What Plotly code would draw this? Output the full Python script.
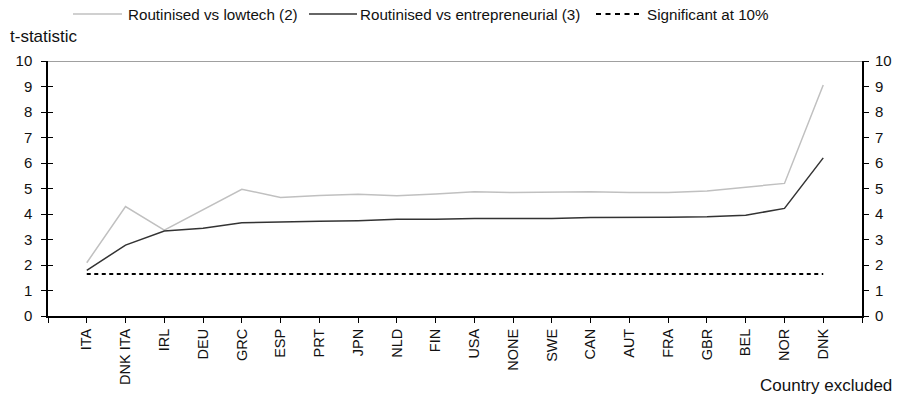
import plotly.graph_objects as go

countries = ["ITA", "DNK ITA", "IRL", "DEU", "GRC", "ESP", "PRT", "JPN", "NLD", "FIN",
             "USA", "NONE", "SWE", "CAN", "AUT", "FRA", "GBR", "BEL", "NOR", "DNK"]
lowtech = [2.09, 4.29, 3.37, 4.16, 4.97, 4.65, 4.73, 4.77, 4.72, 4.78,
           4.87, 4.84, 4.85, 4.87, 4.84, 4.84, 4.90, 5.04, 5.20, 9.06]
entrepreneurial = [1.79, 2.78, 3.33, 3.44, 3.66, 3.70, 3.72, 3.74, 3.79, 3.79,
                   3.82, 3.82, 3.82, 3.86, 3.86, 3.87, 3.89, 3.95, 4.22, 6.20]
significant = [1.645] * len(countries)
y_ticks = list(range(0, 11))
series_names = ["Routinised vs lowtech (2)", "Routinised vs entrepreneurial (3)", "Significant at 10%"]

xpos = list(range(len(countries)))
FONT = "Liberation Sans, Arial, sans-serif"
TXT = "#111111"
GRAY, DARK = "#c0c0c0", "#333333"

W, H = 898, 401
L, R, T, B = 48, 36, 61, 85
PW, PH = W - L - R, H - T - B


def px(x):
    return (x - L) / PW


def py(y):
    return (H - B - y) / PH


fig = go.Figure()
fig.add_trace(go.Scatter(x=xpos, y=lowtech, mode="lines", name=series_names[0],
                         line=dict(color=GRAY, width=1.5)))
fig.add_trace(go.Scatter(x=xpos, y=entrepreneurial, mode="lines", name=series_names[1],
                         line=dict(color=DARK, width=1.5)))
fig.add_trace(go.Scatter(x=xpos, y=significant, mode="lines", name=series_names[2],
                         line=dict(color="black", width=2, dash="4px,3.5px")))
# invisible traces for the extra axes
fig.add_trace(go.Scatter(x=[xpos[0]], y=[0], yaxis="y2", mode="lines", showlegend=False,
                         line=dict(color="rgba(0,0,0,0)"), hoverinfo="skip"))
fig.add_trace(go.Scatter(x=[xpos[0]], y=[0], yaxis="y3", mode="lines", showlegend=False,
                         line=dict(color="rgba(0,0,0,0)"), hoverinfo="skip"))

# custom legend (line samples + labels)
LEG_Y = 14
legend_items = [
    (73, 122, 128, dict(color=GRAY, width=1.5)),
    (309, 357, 360, dict(color=DARK, width=1.5)),
    (596, 641, 647, dict(color="black", width=2, dash="5px,4.5px")),
]
shapes = [dict(type="line", xref="paper", yref="y", x0=0, x1=1, y0=10, y1=10,
               line=dict(color="#808080", width=1.5))]
annotations = []
for (x0, x1, tx, ln), name in zip(legend_items, series_names):
    shapes.append(dict(type="line", xref="paper", yref="paper", x0=px(x0), x1=px(x1),
                       y0=py(LEG_Y), y1=py(LEG_Y), line=ln))
    annotations.append(dict(text=name, xref="paper", yref="paper", x=px(tx), y=py(LEG_Y),
                            xanchor="left", yanchor="middle", showarrow=False,
                            font=dict(size=15.2), xshift=-2))

annotations += [
    dict(text="t-statistic", xref="paper", yref="paper", x=px(8), y=py(37),
         xanchor="left", yanchor="middle", showarrow=False, font=dict(size=17)),
    dict(text="Country excluded", xref="paper", yref="paper", x=px(894), y=py(385),
         xanchor="right", yanchor="middle", showarrow=False, font=dict(size=17)),
]

fig.update_layout(
    width=W, height=H,
    margin=dict(l=L, r=R, t=T, b=B, autoexpand=False),
    plot_bgcolor="white", paper_bgcolor="white",
    font=dict(family=FONT, size=15, color=TXT),
    showlegend=False,
    xaxis=dict(range=[-1, 20], tickmode="array", tickvals=[-1] + xpos + [20],
               ticktext=[""] + countries + [""], tickangle=-90, automargin=False,
               showline=True, linecolor="black", linewidth=2,
               ticks="outside", ticklen=5, tickcolor="black", tickwidth=1,
               showgrid=False, zeroline=False, tickfont=dict(size=14.5)),
    yaxis=dict(range=[0, 10], tickvals=y_ticks, showline=True, linecolor="black", linewidth=1.5,
               automargin=False, ticklabelstandoff=6,
               ticks="outside", ticklen=5, tickcolor="black", showgrid=False, zeroline=False,
               tickfont=dict(size=15)),
    yaxis2=dict(range=[0, 10], tickvals=y_ticks, overlaying="y", side="right",
                showline=True, linecolor="black", linewidth=2, automargin=False,
                ticklabelstandoff=3,
                ticks="outside", ticklen=5, tickcolor="black", showgrid=False, zeroline=False,
                tickfont=dict(size=15)),
    yaxis3=dict(range=[0, 10], tickvals=y_ticks, overlaying="y", side="left",
                showline=False, automargin=False, showticklabels=False,
                ticks="inside", ticklen=5, tickcolor="black", showgrid=False, zeroline=False),
    shapes=shapes,
    annotations=annotations,
)

fig.write_html("out.html", config={"displayModeBar": False},
               post_script="document.body.style.margin='0';")
